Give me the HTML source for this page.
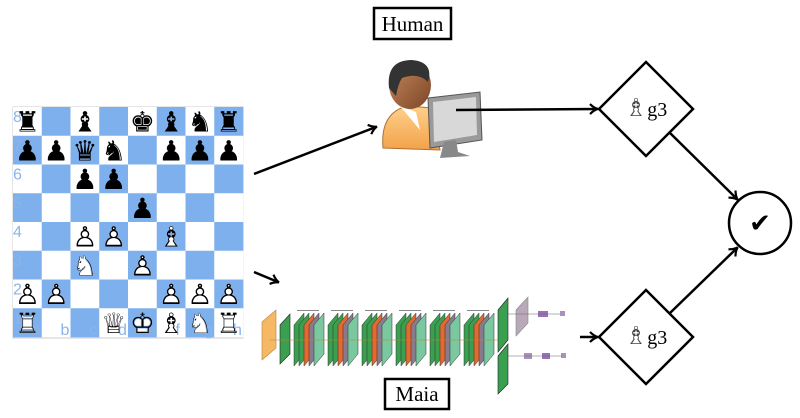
<!DOCTYPE html>
<html><head><meta charset="utf-8"><style>
html,body{margin:0;padding:0;background:#fff;}
svg{display:block}
</style></head><body>
<svg width="800" height="418" viewBox="0 0 800 418" xmlns="http://www.w3.org/2000/svg">
<defs>
<marker id="ah" markerWidth="10" markerHeight="12" refX="8" refY="6" orient="auto" markerUnits="userSpaceOnUse">
<path d="M1,1 Q5,5 9,6 Q5,7 1,11" fill="none" stroke="#000" stroke-width="2.2"/>
</marker>
<linearGradient id="skin" x1="0" y1="0" x2="1" y2="1"><stop offset="0" stop-color="#c98a5e"/><stop offset="1" stop-color="#7a4526"/></linearGradient>
<linearGradient id="shirt" x1="0" y1="0" x2="0" y2="1"><stop offset="0" stop-color="#ffd08a"/><stop offset="1" stop-color="#f2a24a"/></linearGradient>
</defs>

<!-- chessboard -->
<g id="board">
<rect x="13" y="107" width="230" height="231" fill="#fff" stroke="#ccc"/>
</g>
<script>
(function(){
var g=document.getElementById('board'),ns='http://www.w3.org/2000/svg',s=28.75,x0=13,y0=107;
var rows=["r.b.kbnr","ppqn.ppp","..pp....","....p...","..PP.B..","..N.P...","PP...PPP","R..QKBNR"];
var map={k:'\u265A',q:'\u265B',r:'\u265C',b:'\u265D',n:'\u265E',p:'\u265F',K:'\u2654',Q:'\u2655',R:'\u2656',B:'\u2657',N:'\u2658',P:'\u2659'};
function txt(x,y,ch,fill){var t=document.createElementNS(ns,'text');t.setAttribute('x',x);t.setAttribute('y',y);t.setAttribute('text-anchor','middle');t.setAttribute('font-size','28');t.setAttribute('font-family','DejaVu Sans, sans-serif');t.setAttribute('fill',fill);t.textContent=ch;g.appendChild(t);}
for(var r=0;r<8;r++)for(var c=0;c<8;c++){
 var rc=document.createElementNS(ns,'rect');rc.setAttribute('x',x0+c*s);rc.setAttribute('y',y0+r*s);rc.setAttribute('width',s+0.3);rc.setAttribute('height',s+0.3);
 rc.setAttribute('fill',(r+c)%2==0?'#ffffff':'#7fb0ee');g.appendChild(rc);
}
for(var r=0;r<8;r++){var t=document.createElementNS(ns,'text');t.setAttribute('x',x0);t.setAttribute('y',y0+r*s+15);t.setAttribute('font-size','16');t.setAttribute('font-family','Liberation Sans, sans-serif');t.setAttribute('fill','#8ab4e8');t.textContent=8-r;g.appendChild(t);}
var f="abcdefgh";for(var c=0;c<8;c++){var t=document.createElementNS(ns,'text');t.setAttribute('x',x0+c*s+s-10);t.setAttribute('y',y0+8*s-2);t.setAttribute('font-size','16');t.setAttribute('font-family','Liberation Sans, sans-serif');t.setAttribute('fill','#8ab4e8');t.textContent=f[c];g.appendChild(t);}
for(var r=0;r<8;r++)for(var c=0;c<8;c++){
 var ch=rows[r][c];if(ch=='.')continue;
 var x=x0+c*s+s/2,y=y0+r*s+s*0.86;
 if(ch==ch.toUpperCase()){txt(x,y,map[ch.toLowerCase()],'#fff');txt(x,y,map[ch],'#000');}
 else txt(x,y,map[ch],'#000');
}
})();
</script>

<!-- arrows from board -->
<line x1="254" y1="174" x2="376" y2="127" stroke="#000" stroke-width="2.5" marker-end="url(#ah)"/>
<line x1="254" y1="272" x2="278" y2="282" stroke="#000" stroke-width="2.5" marker-end="url(#ah)"/>

<!-- labels -->
<rect x="374" y="8" width="77" height="31" fill="#fff" stroke="#000" stroke-width="2.5"/>
<text x="412.5" y="31" text-anchor="middle" font-family="Liberation Serif, serif" font-size="21">Human</text>
<rect x="385" y="379" width="64" height="30" fill="#fff" stroke="#000" stroke-width="2.5"/>
<text x="417" y="401" text-anchor="middle" font-family="Liberation Serif, serif" font-size="21">Maia</text>

<!-- human icon -->
<path d="M383,148 Q380,112 408,106 L432,108 L440,150 Z" fill="url(#shirt)" stroke="#b07030" stroke-width="1"/>
<path d="M400,106 L416,112 L420,130 L410,118 Z" fill="#fff"/>
<ellipse cx="410" cy="85" rx="21" ry="24" fill="url(#skin)"/>
<path d="M389,88 Q386,60 412,60 Q434,62 428,82 Q418,72 402,78 Q398,84 396,96 Z" fill="#333"/>
<path d="M428,98 L480,92 L482,140 L430,148 Z" fill="#9a9a9a" stroke="#555" stroke-width="1"/>
<path d="M433,102 L476,97 L477,135 L434,142 Z" fill="#d8d8d8"/>
<path d="M444,142 L456,140 L458,152 L470,156 L440,158 Z" fill="#888"/>
<line x1="456" y1="110" x2="597" y2="109" stroke="#000" stroke-width="2.5" marker-end="url(#ah)"/>

<!-- maia network -->
<g>
<polygon points="262,322 276,310 276,348 262,360" fill="#f5b865" stroke="#b88040" stroke-width="0.6"/>
<polygon points="280,325 290,314 290,354 280,364" fill="#3aa050" stroke="#222" stroke-width="0.6"/>
<g id="blocks"></g>
<polygon points="498,310 508,298 508,340 498,352" fill="#3aa050" stroke="#222" stroke-width="0.6"/>
<polygon points="498,356 508,344 508,384 498,394" fill="#3aa050" stroke="#222" stroke-width="0.6"/>
<polygon points="516,310 528,297 528,323 516,336" fill="#b8a8b8" stroke="#888" stroke-width="0.6"/>
<rect x="538" y="311" width="10" height="6" fill="#9a70b8"/><rect x="560" y="311" width="5" height="5" fill="#a890c0"/>
<rect x="524" y="353" width="8" height="6" fill="#a890c0"/><rect x="542" y="353" width="8" height="6" fill="#9a70b8"/><rect x="561" y="353" width="5" height="5" fill="#a890c0"/>
<line x1="508" y1="314" x2="560" y2="314" stroke="#666" stroke-width="0.5"/>
<line x1="508" y1="356" x2="562" y2="356" stroke="#666" stroke-width="0.5"/>
<line x1="270" y1="340" x2="498" y2="340" stroke="#c08030" stroke-width="0.5"/>
</g>
<script>
(function(){
var g=document.getElementById('blocks'),ns='http://www.w3.org/2000/svg';
var cols=['#3aa050','#3aa050','#e06a30','#8a7a90','#7ac8a0'];
for(var b=0;b<6;b++){var bx=294+b*34;
 for(var i=0;i<5;i++){var x=bx+i*5;var p=document.createElementNS(ns,'polygon');
 p.setAttribute('points',x+','+325+' '+(x+10)+','+313+' '+(x+10)+','+354+' '+x+','+366);
 p.setAttribute('fill',cols[i]);p.setAttribute('stroke','#333');p.setAttribute('stroke-width','0.5');g.appendChild(p);}
 var l=document.createElementNS(ns,'rect');l.setAttribute('x',bx+3);l.setAttribute('y',310);l.setAttribute('width',22);l.setAttribute('height',1);l.setAttribute('fill','#888');g.appendChild(l);
}
})();
</script>
<line x1="580" y1="337" x2="597" y2="337" stroke="#000" stroke-width="2.5" marker-end="url(#ah)"/>

<!-- diamonds -->
<polygon points="646,62 693,109 646,156 599,109" fill="#fff" stroke="#000" stroke-width="2.5"/>
<text x="646" y="116" text-anchor="middle" font-size="20" font-family="DejaVu Sans, Liberation Serif, serif"><tspan font-size="25" fill="#444">♗</tspan><tspan font-family="Liberation Serif, serif">g3</tspan></text>
<polygon points="646,290 693,337 646,384 599,337" fill="#fff" stroke="#000" stroke-width="2.5"/>
<text x="646" y="344" text-anchor="middle" font-size="20" font-family="DejaVu Sans, Liberation Serif, serif"><tspan font-size="25" fill="#444">♗</tspan><tspan font-family="Liberation Serif, serif">g3</tspan></text>

<!-- to circle -->
<line x1="670" y1="133" x2="737" y2="199" stroke="#000" stroke-width="2.5" marker-end="url(#ah)"/>
<line x1="670" y1="313" x2="737" y2="248" stroke="#000" stroke-width="2.5" marker-end="url(#ah)"/>
<circle cx="760" cy="223" r="31" fill="#fff" stroke="#000" stroke-width="2.5"/>
<text x="760" y="232" text-anchor="middle" font-size="26" font-family="DejaVu Sans, sans-serif">✔</text>
</svg>
</body></html>
